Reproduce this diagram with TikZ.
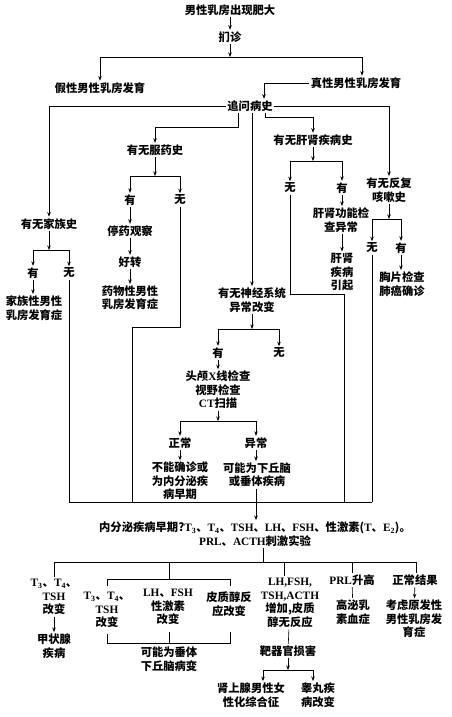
\documentclass[tikz,border=0pt]{standalone}
\usepackage{fontspec}
\setmainfont{Noto Sans CJK SC}
\newfontfamily\latf{Liberation Serif}
\usetikzlibrary{arrows.meta}
\newcommand\Lt[1]{{\latf\bfseries #1}}
\begin{document}
\begin{tikzpicture}[x=1pt,y=-1pt,line width=0.6pt,
  t/.style={inner sep=1.5pt,align=center,font=\fontsize{11.3}{13.5}\selectfont\bfseries},
  arr/.style={-{Stealth[length=4.5pt,width=3.5pt]}}]
\useasboundingbox[fill=white] (0,0) rectangle (452,717);
% nodes
\node[t] (n1) at (230,10) {男性乳房出现肥大};
\node[t] (n2) at (230,37) {扪诊};
\node[t] (n3) at (100,88) {假性男性乳房发育};
\node[t] (n4) at (356,83) {真性男性乳房发育};
\node[t] (n5) at (250,106) {追问病史};
\node[t] (n6) at (49,224) {有无家族史};
\node[t] (n7) at (155,150) {有无服药史};
\node[t] (n8) at (313,140) {有无肝肾疾病史};
\node[t] (n9) at (389,190) {有无反复\\咳嗽史};
\node[t] (n10) at (252,300) {有无神经系统\\异常改变};
% family
\node[t] (fy) at (33,273) {有};
\node[t] (fn) at (69,273) {无};
\node[t] (fd) at (34,308) {家族性男性\\乳房发育症};
% drug
\node[t] (dy) at (130,200) {有};
\node[t] (dn) at (180,200) {无};
\node[t] (d1) at (130,231) {停药观察};
\node[t] (d2) at (130,262) {好转};
\node[t] (d3) at (130,298) {药物性男性\\乳房发育症};
% liver
\node[t] (ln) at (290,188) {无};
\node[t] (ly) at (342,188) {有};
\node[t] (l1) at (341,220) {肝肾功能检\\查异常};
\node[t] (l2) at (342,272) {肝肾\\疾病\\引起};
% cough
\node[t] (cn) at (372,248) {无};
\node[t] (cy) at (401,248) {有};
\node[t] (c1) at (402,284) {胸片检查\\肺癌确诊};
% neuro
\node[t] (ny) at (218,353) {有};
\node[t] (nn) at (279,353) {无};
\node[t] (ct) at (218,390) {头颅\Lt{X}线检查\\视野检查\\\Lt{CT}扫描};
\node[t] (ok) at (180,443) {正常};
\node[t] (ab) at (256,443) {异常};
\node[t] (ok1) at (180,481) {不能确诊或\\为内分泌疾\\病早期};
\node[t] (ab1) at (257,475) {可能为下丘脑\\或垂体疾病};
% endocrine
\node[t] (en) at (255,534) {内分泌疾病早期?\Lt{T\textsubscript{3}}、\Lt{T\textsubscript{4}}、\Lt{TSH}、\Lt{LH}、\Lt{FSH}、性激素(\Lt{T}、\Lt{E\textsubscript{2}})。\\\Lt{PRL}、\Lt{ACTH}刺激实验};
% bottom row
\node[t] (b1) at (54,597) {\Lt{T\textsubscript{3}}、\Lt{T\textsubscript{4}}、\\\Lt{TSH}\\改变};
\node[t] (b1a) at (54,646) {甲状腺\\疾病};
\node[t] (b2) at (107,610) {\Lt{T\textsubscript{3}}、\Lt{T\textsubscript{4}}、\\\Lt{TSH}\\改变};
\node[t] (b3) at (168,607) {\Lt{LH}、\Lt{FSH}\\性激素\\改变};
\node[t] (b4) at (229,604) {皮质醇反\\应改变};
\node[t] (b5) at (169,659) {可能为垂体\\下丘脑病变};
\node[t] (b6) at (290,603) {\Lt{LH,FSH,}\\\Lt{TSH,ACTH}\\增加,皮质\\醇无反应};
\node[t] (b6a) at (288,651) {靶器官损害};
\node[t] (b6b) at (251,695) {肾上腺男性女\\性化综合征};
\node[t] (b6c) at (318,695) {睾丸疾\\病改变};
\node[t] (b7) at (352,580) {\Lt{PRL}升高};
\node[t] (b7a) at (353,612) {高泌乳\\素血症};
\node[t] (b8) at (415,580) {正常结果};
\node[t] (b8a) at (414,619) {考虑原发性\\男性乳房发\\育症};
% coordinates
\coordinate (s1) at (230,57);
\coordinate (k1) at (238,127);
\coordinate (k2) at (265,117);
\coordinate (jf) at (49,250);
\coordinate (jd) at (155,176);
\coordinate (dk) at (180,327);
\coordinate (db) at (132,502);
\coordinate (jl) at (313,161);
\coordinate (lk) at (290,294);
\coordinate (lb) at (344,502);
\coordinate (jc) at (389,219);
\coordinate (jn) at (252,329);
\coordinate (jct) at (218,421);
\coordinate (bl) at (256,502);
\coordinate (jb) at (263,562);
\coordinate (hL) at (54,562);
\coordinate (hR) at (416,562);
\coordinate (bt) at (169,579);
\coordinate (btL) at (107,579);
\coordinate (btR) at (230,579);
\coordinate (btLe) at (107,586);
\coordinate (btRe) at (230,586);
\coordinate (bb) at (169,643);
\coordinate (bbL) at (107,643);
\coordinate (bbR) at (230,643);
\coordinate (bbLe) at (107,634);
\coordinate (bbRe) at (230,632);
\coordinate (bbMe) at (169,632);
\coordinate (d6) at (284,562);
\coordinate (d6e) at (284,576);
\coordinate (j6) at (288,670);
% connectors top
\draw[arr] (n1) -- (n2);
\draw[arr] (n2) -- (s1);
\draw[arr] (s1) -| (n3);
\draw[arr] (s1) -| ([xshift=6pt]n4.north);
\draw[arr] (n4.west) -| ([xshift=14pt]n5.north);
\draw[arr] (n5.west) -| (n6);
\draw[arr] (n5.east) -| (n9);
\draw[arr] ([xshift=-12pt]n5.south) |- (k1) -| (n7);
\draw[arr] ([xshift=15pt]n5.south) |- (k2) -| (n8);
\draw[arr] (n5.south -| n10) -- (n10);
% family
\draw[arr] (n6) -- (jf);
\draw[arr] (jf) -| (fy);
\draw[arr] (jf) -| (fn);
\draw[arr] (fy) -- (fy |- fd.north);
\draw (fn) -- (fn |- bl);
% drug
\draw[arr] (n7) -- (jd);
\draw[arr] (jd) -| (dy);
\draw[arr] (jd) -| (dn);
\draw[arr] (dy) -- (d1);
\draw[arr] (d1) -- (d2);
\draw[arr] (d2) -- (d3);
\draw (dn) -- (dk) -| (db);
% liver
\draw[arr] (n8) -- (jl);
\draw[arr] (jl) -| (ln);
\draw[arr] (jl) -| (ly);
\draw[arr] (ly) -- (ly |- l1.north);
\draw[arr] (l1.south -| l2) -- (l2);
\draw (ln) -- (lk) -| (lb);
% cough
\draw[arr] (n9) -- (jc);
\draw[arr] (jc) -| (cn);
\draw[arr] (jc) -| (cy);
\draw[arr] (cy) -- (cy |- c1.north);
\draw (cn) -- (cn |- bl);
\draw (fn |- bl) -- (cn |- bl);
% neuro
\draw[arr] (n10) -- (jn);
\draw[arr] (jn) -| (ny);
\draw[arr] (jn) -| (nn);
\draw[arr] (ny) -- (ct);
\draw[arr] (ct) -- (jct);
\draw[arr] (jct) -| (ok);
\draw[arr] (jct) -| (ab);
\draw[arr] (ok) -- (ok1);
\draw[arr] (ab) -- (ab |- ab1.north);
\draw[arr] (ab1.south -| bl) -- (bl |- en.north);
% endocrine fan-out
\draw (en.south -| jb) -- (jb);
\draw (hL) -- (hR);
\draw (hL) -- (hL |- b1.north);
\draw[arr] (b1) -- (b1a);
\draw (bt |- hL) -- (bt);
\draw (btLe) -- (btL) -- (btR) -- (btRe);
\draw (bbLe) -- (bbL) -- (bbR) -- (bbRe);
\draw (bbMe) -- (bb);
\draw (d6) -- (d6e);
\draw (b6) -- (b6a);
\draw[arr] (b6a) -- (j6);
\draw[arr] (j6) -| ([xshift=12pt]b6b.north);
\draw[arr] (j6) -| ([xshift=-5pt]b6c.north);
\draw (b7 |- hL) -- (b7);
\draw (b7) -- (b7a);
\draw (hR) -- (hR |- b8.north);
\draw[arr] (b8) -- (b8a);
\end{tikzpicture}
\end{document}
